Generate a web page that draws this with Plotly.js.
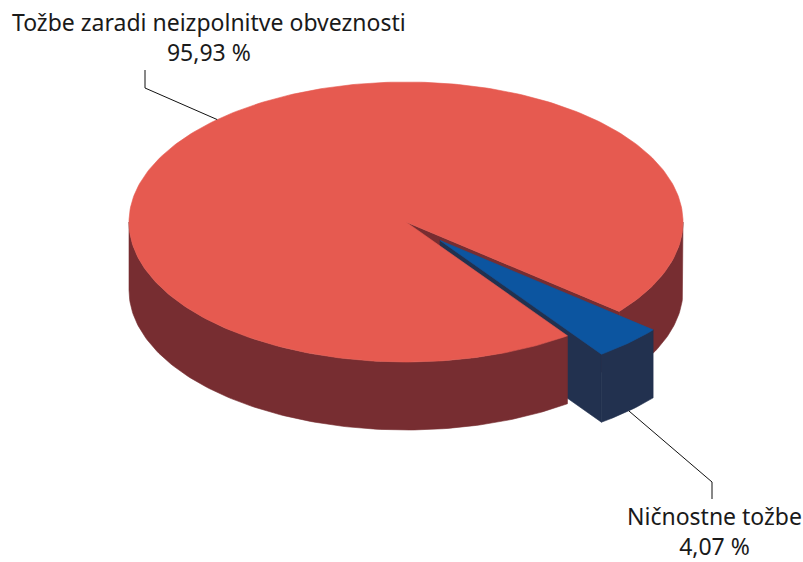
<!DOCTYPE html>
<html><head><meta charset="utf-8">
<script src="https://cdn.plot.ly/plotly-3.0.1.min.js"></script>
<style>html,body{margin:0;padding:0;background:#fff}#chart{width:803px;height:562px}</style>
</head><body><div id="chart"></div>
<script>
// ---- data ----
const labels = ["Tožbe zaradi neizpolnitve obveznosti", "Ničnostne tožbe"];
const values = [95.93, 4.07];

// ---- style / geometry ----
const topColors = ["#E65A50", "#0C55A0"];
const sideColors = ["#772D31", "#22314F"];
const pulls = [0, 0.18];
const CX = 406, CY = 222, RX = 277, RY = 140, DEPTH = 68, START = -39.7;
const FONT = "Noto Sans";
const FSIZE = 23;

const total = values.reduce((a, b) => a + b, 0);
const rad = d => d * Math.PI / 180;

// slice angles (counter-clockwise from START)
const slices = [];
let acc = START;
values.forEach((v, i) => {
  const span = v / total * 360;
  const a0 = acc, a1 = acc + span;
  const mid = (a0 + a1) / 2;
  const ox = pulls[i] * RX * Math.cos(rad(mid));
  const oy = -pulls[i] * RY * Math.sin(rad(mid));
  slices.push({ a0, a1, mid, ox, oy, i });
  acc = a1;
});

function pt(s, a, r, z) {
  return [CX + s.ox + r * RX * Math.cos(rad(a)), CY + s.oy - r * RY * Math.sin(rad(a)) + z];
}
function arc(s, a0, a1, z) {
  const pts = [];
  const n = Math.max(2, Math.ceil(Math.abs(a1 - a0)));
  for (let k = 0; k <= n; k++) pts.push(pt(s, a0 + (a1 - a0) * k / n, 1, z));
  return pts;
}
function poly(pts, color) {
  const x = pts.map(p => p[0]), y = pts.map(p => p[1]);
  x.push(x[0]); y.push(y[0]);
  return { type: "scatter", mode: "lines", x, y, fill: "toself", fillcolor: color,
           line: { color: color, width: 0.6 }, hoverinfo: "skip", showlegend: false };
}

const wallTraces = [], sideTraces = [], topTraces = [];
slices.forEach(s => {
  const col = sideColors[s.i];
  // outer visible side (front half: angles 180..360 mod 360)
  for (let k = -1; k <= 1; k++) {
    const lo = Math.max(s.a0, 180 + 360 * k), hi = Math.min(s.a1, 360 + 360 * k);
    if (hi > lo) {
      const topArc = arc(s, lo, hi, 0);
      const botArc = arc(s, lo, hi, DEPTH).reverse();
      sideTraces.push(poly(topArc.concat(botArc), col));
    }
  }
  // radial walls
  const c0 = pt(s, 0, 0, 0), c1 = pt(s, 0, 0, DEPTH);
  if (Math.cos(rad(s.a0)) > 0) {
    wallTraces.push(poly([c0, pt(s, s.a0, 1, 0), pt(s, s.a0, 1, DEPTH), c1], col));
  }
  if (Math.cos(rad(s.a1)) < 0) {
    wallTraces.push(poly([c0, pt(s, s.a1, 1, 0), pt(s, s.a1, 1, DEPTH), c1], col));
  }
  // top face
  topTraces.push(poly([c0].concat(arc(s, s.a0, s.a1, 0)), topColors[s.i]));
});

// labels and leader lines
const fmt = v => (v / total * 100).toFixed(2).replace(".", ",") + " %";
const annotations = [], shapes = [];
const labelSpec = [
  { kx: 145, ky: 88, ey: 70, tx: 209, ty: 37 },
  { kx: 712, ky: 482, ey: 499, tx: 714, ty: 531 }
];
slices.forEach(s => {
  const L = labelSpec[s.i];
  const sinm = Math.sin(rad(s.mid));
  const anchor = pt(s, s.mid, 1, sinm < 0 ? DEPTH : 0);
  shapes.push({ type: "path", xref: "x", yref: "y",
    path: `M${anchor[0]},${anchor[1]} L${L.kx},${L.ky} L${L.kx},${L.ey}`,
    line: { color: "#111", width: 1 } });
  annotations.push({ x: L.tx, y: L.ty, xref: "x", yref: "y",
    text: labels[s.i] + "<br>" + fmt(values[s.i]), showarrow: false, align: "center",
    font: { family: FONT, size: FSIZE, color: "#1a1a1a" }, xanchor: "center", yanchor: "middle" });
});

const layout = {
  width: 803, height: 562,
  margin: { l: 0, r: 0, t: 0, b: 0, pad: 0 },
  paper_bgcolor: "#ffffff", plot_bgcolor: "#ffffff",
  xaxis: { range: [0, 803], visible: false, fixedrange: true },
  yaxis: { range: [562, 0], visible: false, fixedrange: true },
  showlegend: false,
  annotations, shapes
};

Plotly.newPlot("chart", wallTraces.concat(sideTraces, topTraces), layout, { displayModeBar: false, staticPlot: true });
</script>
</body></html>
